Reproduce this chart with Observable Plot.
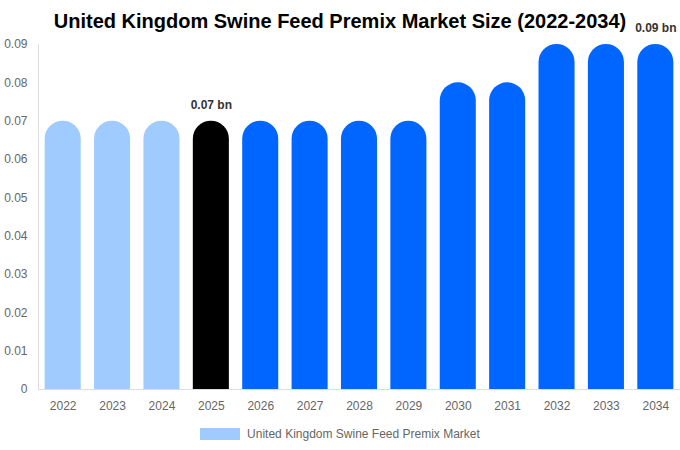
<!DOCTYPE html>
<html>
<head>
<meta charset="utf-8">
<script src="https://cdn.jsdelivr.net/npm/d3@7"></script>
<script src="https://cdn.jsdelivr.net/npm/@observablehq/plot@0.6"></script>
<style>
  html, body { margin: 0; padding: 0; background: #fff; font-family: "Liberation Sans", Arial, sans-serif; }
  #wrap { width: 680px; }
  #title { box-sizing: border-box; height: 32px; padding-top: 11px; line-height: 20px; font-size: 20px; font-weight: bold; text-align: center; color: #000; }
  #legend { display: flex; justify-content: center; align-items: center; height: 33px; font-size: 12px; color: #666; }
  #legend .sw { width: 40px; height: 12px; background: #a0cbff; margin-right: 7px; }
  svg { overflow: visible; }
</style>
</head>
<body>
<div id="wrap">
  <div id="title">United Kingdom Swine Feed Premix Market Size (2022-2034)</div>
  <div id="chart"></div>
  <div id="legend"><div class="sw"></div><span>United Kingdom Swine Feed Premix Market</span></div>
</div>
<script>
const years = ["2022","2023","2024","2025","2026","2027","2028","2029","2030","2031","2032","2033","2034"];
const values = [0.07,0.07,0.07,0.07,0.07,0.07,0.07,0.07,0.08,0.08,0.09,0.09,0.09];
const phases = ["past","past","past","current","forecast","forecast","forecast","forecast","forecast","forecast","forecast","forecast","forecast"];
const labeledYears = ["2025","2034"];
const yTicks = [0,0.01,0.02,0.03,0.04,0.05,0.06,0.07,0.08,0.09];
const phaseNames = ["past","current","forecast"];
const phaseColors = ["#a0cbff","#000000","#0066ff"];

const data = years.map((y, i) => ({year: y, value: values[i], phase: phases[i]}));
const labels = data.filter(d => labeledYears.includes(d.year));

const chart = Plot.plot({
  width: 680,
  height: 385,
  marginTop: 12,
  marginBottom: 28,
  marginLeft: 38,
  marginRight: 0,
  style: {fontFamily: "'Liberation Sans', Arial, sans-serif", fontSize: "12px", color: "#666", background: "#fff"},
  x: {type: "band", domain: years, paddingInner: 0.27, paddingOuter: 0.135, round: false, label: null},
  y: {domain: [0, 0.09], label: null},
  color: {domain: phaseNames, range: phaseColors},
  marks: [
    Plot.barY(data, {x: "year", y1: () => -0.01, y2: "value", fill: "phase", rx: 18, ry: 18, clip: true}),
    Plot.ruleY([0], {stroke: "#ddd"}),
    Plot.frame({anchor: "left", stroke: "#ddd"}),
    Plot.axisY({ticks: yTicks, tickSize: 0, tickPadding: 11, tickFormat: d => d === 0 ? "0" : d.toFixed(2), fill: "#666", label: null}),
    Plot.axisX({tickSize: 0, tickPadding: 12, fill: "#666", label: null}),
    Plot.text(labels, {x: "year", y: "value", text: d => d.value.toFixed(2) + " bn", dy: -16, fontWeight: "bold", fill: "#333", fontSize: 12})
  ]
});
document.getElementById("chart").appendChild(chart);
</script>
</body>
</html>
